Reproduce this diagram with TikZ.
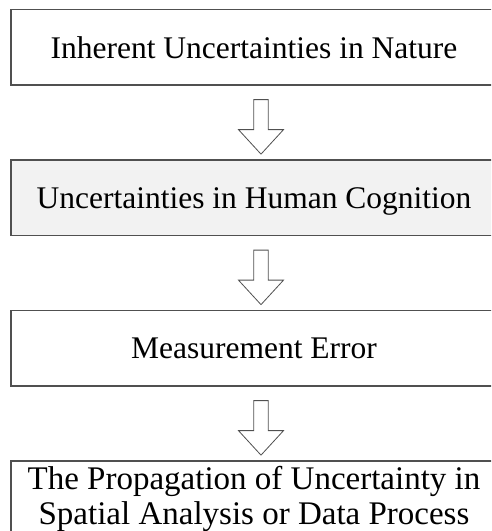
\documentclass[tikz,border=0pt]{standalone}
\usepackage{fontspec}
\setmainfont{Liberation Serif}
\usetikzlibrary{calc}
\definecolor{edgegray}{HTML}{505050}
\definecolor{cogfill}{HTML}{F2F2F2}
\begin{document}
\begin{tikzpicture}[x=1pt,y=1pt,
  stagebox/.style={draw=edgegray, line width=1.3pt, minimum width=486pt,
    minimum height=75.5pt, inner sep=0pt, align=center,
    font=\fontsize{31.5}{35}\selectfont},
  arrowline/.style={draw=edgegray, line width=0.8pt, fill=white, line join=miter},
  pics/downarrow/.style={code={
    \path[arrowline] (-7.2,0) -- (7.2,0) -- (7.2,-30) -- (22.5,-30) -- (0,-54.5)
      -- (-22.5,-30) -- (-7.2,-30) -- cycle;}}
]
\useasboundingbox (0,0) rectangle (491,531);
\clip (0,0) rectangle (491,531);
\fill[white] (0,0) rectangle (491,531);

% the four stages, top to bottom
\node[stagebox, text depth=0pt] (nature) at (254,483.75) {Inherent Uncertainties in Nature};
\node[stagebox, text depth=0pt, fill=cogfill] (cognition) at (254,333.25) {Uncertainties in Human Cognition};
\node[stagebox, text depth=0pt] (measure) at (254,182.75) {Measurement Error};
\node[stagebox, font=\fontsize{33}{35}\selectfont] (propagate) at (254,32.25)
  {The Propagation of Uncertainty in\\Spatial Analysis or Data Process};

% hollow block arrows between consecutive stages
\pic at ($(nature.south)+(7,-14)$) {downarrow};
\pic at ($(cognition.south)+(7,-14)$) {downarrow};
\pic at ($(measure.south)+(7,-14)$) {downarrow};
\end{tikzpicture}
\end{document}
